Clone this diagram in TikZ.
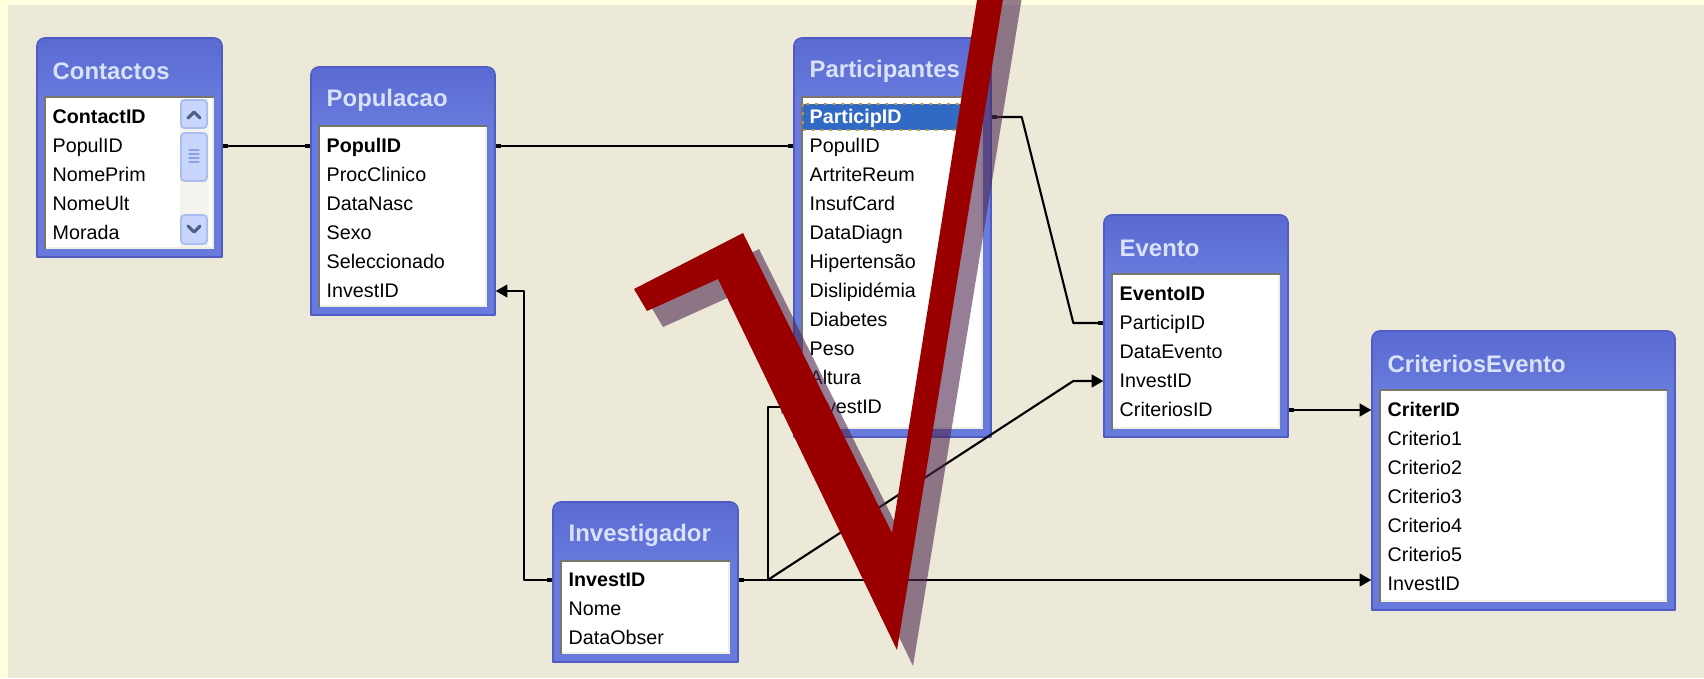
\documentclass[tikz,border=0pt]{standalone}
\usepackage{fontspec}
\setmainfont{Liberation Sans}
\usetikzlibrary{arrows.meta,fit,calc}
\definecolor{slideyellow}{RGB}{255,255,224}
\definecolor{deskbg}{RGB}{236,233,216}
\definecolor{xpblue}{RGB}{104,122,220}
\definecolor{xpdark}{RGB}{90,106,210}
\definecolor{xplight}{RGB}{140,164,236}
\definecolor{xpedge}{RGB}{78,92,196}
\definecolor{xptitle}{RGB}{216,226,250}
\definecolor{sunkdark}{RGB}{120,118,108}
\definecolor{sunklight}{RGB}{241,239,226}
\definecolor{selblue}{RGB}{49,106,197}
\definecolor{focusdot}{RGB}{190,150,60}
\definecolor{scrolltrack}{RGB}{244,243,237}
\definecolor{scrollbtn}{RGB}{200,214,252}
\definecolor{scrolledge}{RGB}{170,188,240}
\definecolor{scrollarrow}{RGB}{77,97,133}
\definecolor{scrollgrip}{RGB}{140,160,228}
\definecolor{tickred}{RGB}{155,0,0}
\definecolor{tickshade}{RGB}{80,40,80}

\begin{document}
\begin{tikzpicture}[x=0.01cm,y=-0.01cm,line cap=round,line join=round,
  field/.style={anchor=west,inner sep=0pt,text height=4.2pt,text depth=0.4pt,font=\fontsize{5.6}{6}\selectfont},
  keyfield/.style={field,font=\fontsize{5.6}{6}\selectfont\bfseries},
  tbltitle/.style={anchor=west,inner sep=0pt,text=xptitle,font=\fontsize{6.8}{7}\selectfont\bfseries},
  rel/.style={draw=black,line width=0.6pt},
  onetoone/.style={rel,{Square[length=1.4pt,width=1.4pt]}-{Square[length=1.4pt,width=1.4pt]}},
  onetomany/.style={rel,{Square[length=1.4pt,width=1.4pt]}-{Triangle[length=3.3pt,width=3.6pt]}}]
\useasboundingbox (0,0) rectangle (1704,678);
\clip (0,0) rectangle (1704,678);
\fill[slideyellow] (0,0) rectangle (1704,678);
\fill[deskbg] (8,5) rectangle (1704,678);

% tables
\foreach \nm/\xa/\ya/\xb/\yb/\ttl in {cont/37/38/222/257/Contactos, pop/311/67/495/315/Populacao,
  part/794/38/991/437/Participantes, evt/1104/215/1288/437/Evento,
  crit/1372/331/1675/610/CriteriosEvento, inv/553/502/738/662/Investigador}
{
  \node[inner sep=0pt,fit={(\xa,\ya) (\xb,\yb)}] (\nm) {};
  \filldraw[fill=xpblue,draw=xpedge,line width=0.5pt] (\xa,\yb) [rounded corners=2.3pt] -- (\xa,\ya) -- (\xb,\ya) [sharp corners] -- (\xb,\yb) -- cycle;
  \shade[top color=xpdark,middle color=xplight,bottom color=xpblue] ({\xa+1},{\ya+59}) [rounded corners=2pt] -- ({\xa+1},{\ya+1}) -- ({\xb-1},{\ya+1}) [sharp corners] -- ({\xb-1},{\ya+59}) -- cycle;
  \fill[white] ({\xa+8},{\ya+59}) rectangle ({\xb-8},{\yb-8});
  \draw[sunklight,line width=0.8pt] ({\xa+9},{\yb-9}) -| ({\xb-9},{\ya+60});
  \draw[sunkdark,line width=0.5pt] ({\xa+8},{\yb-8}) |- ({\xb-8},{\ya+59});
  \node[tbltitle] (\nm-title) at ({\xa+15},{\ya+33}) {\ttl};
}

% scroll bar of Contactos
\fill[scrolltrack] (180,99) rectangle (209,247);
\foreach \ya/\yb in {100/128,133/181,215/244}
  \filldraw[fill=scrollbtn,draw=scrolledge,line width=0.5pt,rounded corners=1pt] (181,\ya) rectangle (207,\yb);
\draw[scrollarrow,line width=0.9pt] (188,118) -- (194,112) -- (200,118);
\draw[scrollarrow,line width=0.9pt] (188,226) -- (194,232) -- (200,226);
\foreach \yy in {150,154,158,162}
  \draw[scrollgrip,line width=0.4pt] (189,\yy) -- (199,\yy);

% selected field
\fill[selblue] (803,104) rectangle (982,130);
\draw[focusdot,dotted,line width=0.5pt] (803,104) rectangle (982,130);

% fields
\node[keyfield] (cont-1) at (52,117) {ContactID};
\foreach \fld [count=\i from 2] in {PopulID,NomePrim,NomeUlt,Morada}
  \node[field] (cont-\i) at (52,{117+29*(\i-1)}) {\fld};
\node[keyfield] (pop-1) at (326,146) {PopulID};
\foreach \fld [count=\i from 2] in {ProcClinico,DataNasc,Sexo,Seleccionado,InvestID}
  \node[field] (pop-\i) at (326,{146+29*(\i-1)}) {\fld};
\node[keyfield,text=white] (part-1) at (809,117) {ParticipID};
\foreach \fld [count=\i from 2] in {PopulID,ArtriteReum,InsufCard,DataDiagn,Hipertensão,Dislipidémia,Diabetes,Peso,Altura,InvestID}
  \node[field] (part-\i) at (809,{117+29*(\i-1)}) {\fld};
\node[keyfield] (evt-1) at (1119,294) {EventoID};
\foreach \fld [count=\i from 2] in {ParticipID,DataEvento,InvestID,CriteriosID}
  \node[field] (evt-\i) at (1119,{294+29*(\i-1)}) {\fld};
\node[keyfield] (crit-1) at (1387,410) {CriterID};
\foreach \fld [count=\i from 2] in {Criterio1,Criterio2,Criterio3,Criterio4,Criterio5,InvestID}
  \node[field] (crit-\i) at (1387,{410+29*(\i-1)}) {\fld};
\node[keyfield] (inv-1) at (568,580) {InvestID};
\foreach \fld [count=\i from 2] in {Nome,DataObser}
  \node[field] (inv-\i) at (568,{580+29*(\i-1)}) {\fld};

% relationships
\draw[onetoone] (cont.east |- cont-2) -- (pop.west |- pop-1);
\draw[onetoone] (pop.east |- pop-1) -- (part.west |- part-2);
\draw[onetoone] (part.east |- part-1) -- ++(30,0) -- ($(evt.west |- evt-2)+(-30,0)$) -- (evt.west |- evt-2);
\draw[onetomany] (inv.west |- inv-1) -- ++(-28,0) |- (pop.east |- pop-6);
\draw[onetomany] (inv.east |- inv-1) -- (inv-1 -| crit.west);
\draw[onetomany] (inv.east |- inv-1) -- ++(29,0) coordinate (invjoin) |- (part.west |- part-11);
\draw[rel,-{Triangle[length=3.3pt,width=3.6pt]}] (invjoin) -- ($(evt.west |- evt-4)+(-30,0)$) -- (evt.west |- evt-4);
\draw[onetomany] (evt.east |- evt-5) -- (crit.west |- crit-1);

% tick with its shadow
\foreach \dd/\col/\op in {16/tickshade/0.6,0/tickred/1}
  \fill[\col,opacity=\op,shift={(\dd,\dd)}] (634,289) -- (743,233) -- (892,533) -- (985,-50) -- (1011,-50) -- (897,650) -- (718,279) -- (647,311) -- cycle;
\end{tikzpicture}
\end{document}
